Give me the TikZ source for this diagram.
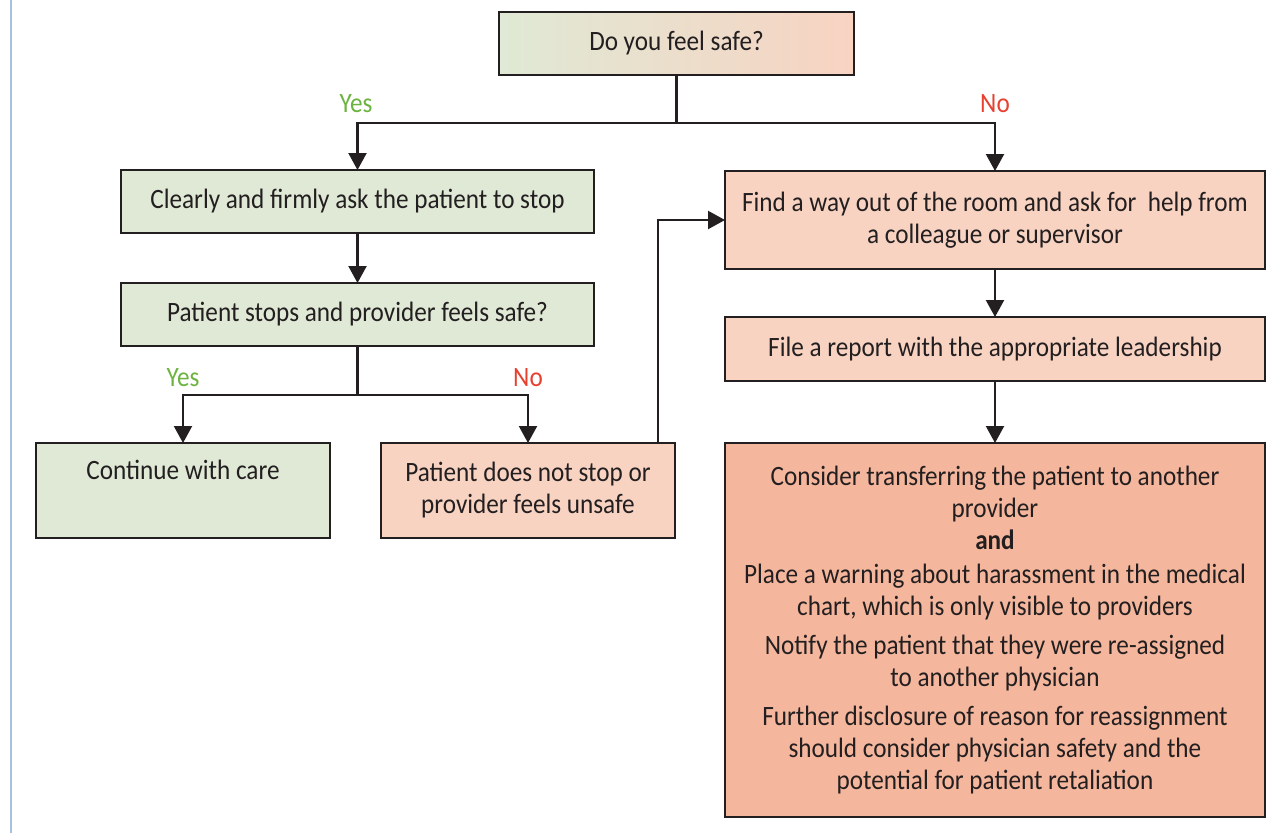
\documentclass[tikz,border=0pt]{standalone}
\usepackage{fontspec}
\setmainfont{Carlito}[FakeStretch=0.9]
\usetikzlibrary{arrows.meta}
\definecolor{gfill}{HTML}{DFE9D5}
\definecolor{pfill}{HTML}{F8D3C2}
\definecolor{sfill}{HTML}{F4B69C}
\definecolor{yesgreen}{HTML}{6DB33F}
\definecolor{nored}{HTML}{E8402E}
\definecolor{sideblue}{HTML}{A9C0E0}
\definecolor{ink}{HTML}{231F20}
\begin{document}
\begin{tikzpicture}[x=1pt,y=-1pt,
  box/.style={draw=ink, line width=2.2pt, align=center, inner sep=0pt, outer sep=0pt,
    text=ink, font=\fontsize{28}{32}\selectfont},
  conn/.style={draw=ink, line width=2.2pt},
  arr/.style={conn, -{Triangle[width=18pt,length=17pt]}},
  yeslbl/.style={text=yesgreen, font=\fontsize{28}{32}\selectfont, inner sep=0pt},
  nolbl/.style={text=nored, font=\fontsize{28}{32}\selectfont, inner sep=0pt},
  side/.style={draw=sideblue, line width=2pt}]
\useasboundingbox (0,0) rectangle (1270,833);
\fill[white] (0,0) rectangle (1270,833);
\draw[side] (11,0) -- (11,833);

\node[box, left color=gfill, right color=pfill, minimum width=355pt, minimum height=63pt] (top) at (676.5,43.5) {Do you feel safe?};
\node[box, fill=gfill, minimum width=473pt, minimum height=63pt] (clear) at (357.5,201.5) {Clearly and firmly ask the patient to stop};
\node[box, fill=gfill, minimum width=473pt, minimum height=63pt] (stops) at (357.5,314.5) {Patient stops and provider feels safe?};
\node[box, fill=gfill, minimum width=294pt, minimum height=95pt] (cont) at (183,490.5) {Continue with care\\\strut};
\node[box, fill=pfill, minimum width=294pt, minimum height=95pt] (notstop) at (528,490.5) {Patient does not stop or\\provider feels unsafe};
\node[box, fill=pfill, minimum width=540pt, minimum height=98pt] (find) at (995,220) {Find a way out of the room and ask for~ help from\\a colleague or supervisor};
\node[box, fill=pfill, minimum width=540pt, minimum height=64pt] (file) at (995,349) {File a report with the appropriate leadership};
\node[box, fill=sfill, minimum width=540pt, minimum height=374pt] (big) at (995,630) {Consider transferring the patient to another\\provider\\\textbf{and}\\[2pt]
Place a warning about harassment in the medical\\chart, which is only visible to providers\\[7pt]
Notify the patient that they were re-assigned\\to another physician\\[7pt]
Further disclosure of reason for reassignment\\should consider physician safety and the\\potential for patient retaliation};

\node[yeslbl] (yes1) at (356,104) {Yes};
\node[nolbl] (no1) at (995,104) {No};
\node[yeslbl] (yes2) at (183,378) {Yes};
\node[nolbl] (no2) at (528,378) {No};

\coordinate (j1) at (676.5,123);
\coordinate (j2) at (357.5,395);
\draw[conn] (top.south) -- (j1);
\draw[arr] (j1) -| (clear.north);
\draw[arr] (j1) -| (find.north);
\draw[arr] (clear.south) -- (stops.north);
\draw[conn] (stops.south) -- (j2);
\draw[arr] (j2) -| (cont.north);
\draw[arr] (j2) -| (notstop.north);
\draw[arr] ([xshift=130pt]notstop.north) |- (find.west);
\draw[arr] (find.south) -- (file.north);
\draw[arr] (file.south) -- (big.north);
\end{tikzpicture}
\end{document}
